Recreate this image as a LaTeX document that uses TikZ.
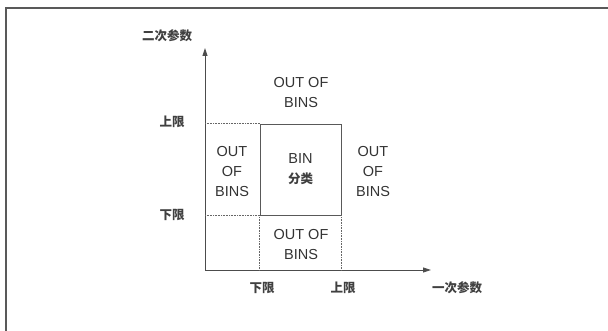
\documentclass[tikz,border=0pt]{standalone}
\usepackage{fontspec}
\setmainfont{Liberation Sans}
\newfontfamily\cjk{Noto Sans CJK SC}
\usetikzlibrary{arrows.meta}

\begin{document}
\begin{tikzpicture}[x=1pt, y=-1pt,
  axis/.style={draw=black!70, line width=0.9pt, -{Triangle[length=8pt,width=5pt]}},
  guide/.style={draw=black!60, densely dotted, line width=0.6pt},
  region/.style={align=center, font=\fontsize{14.5}{20}\selectfont, text=black!80},
  limit/.style={font=\cjk\bfseries\fontsize{12.5}{14}\selectfont, text=black!75}]
\useasboundingbox (0,0) rectangle (608,331);
% frame
\draw[black!65, line width=2.5pt] (6,340) -- (6,8) -- (620,8);
% axes
\coordinate (o) at (205,270);
\coordinate (ytip) at (205,48);
\coordinate (xtip) at (431,270);
\draw[axis] (o) -- (ytip);
\draw[axis] (o) -- (xtip);
% bin window
\node[draw=black!65, line width=0.8pt, minimum width=81, minimum height=91, inner sep=0, region] (bin) at (300.5,169.5) {BIN\\{\cjk\bfseries\fontsize{12.5}{20}\selectfont\color{black!75} 分类}};
\draw[guide] (o |- bin.north west) -- (bin.north west);
\draw[guide] (o |- bin.south west) -- (bin.south west);
\draw[guide] (bin.south west) -- (bin.south west |- o);
\draw[guide] (bin.south east) -- (bin.south east |- o);
% limits
\node[limit] (ytitle) at (167,36) {二次参数};
\node[limit] (yhi) at (172,122) {上限};
\node[limit] (ylo) at (172,215) {下限};
\node[limit] (xlo) at (262,288) {下限};
\node[limit] (xhi) at (343,288) {上限};
\node[limit] (xtitle) at (457,288) {一次参数};
% outside regions
\node[region] (above) at (301,93) {OUT OF\\BINS};
\node[region] (leftof) at (232,172) {OUT\\OF\\BINS};
\node[region] (rightof) at (373,172) {OUT\\OF\\BINS};
\node[region] (below) at (301,244.5) {OUT OF\\BINS};
\end{tikzpicture}
\end{document}
